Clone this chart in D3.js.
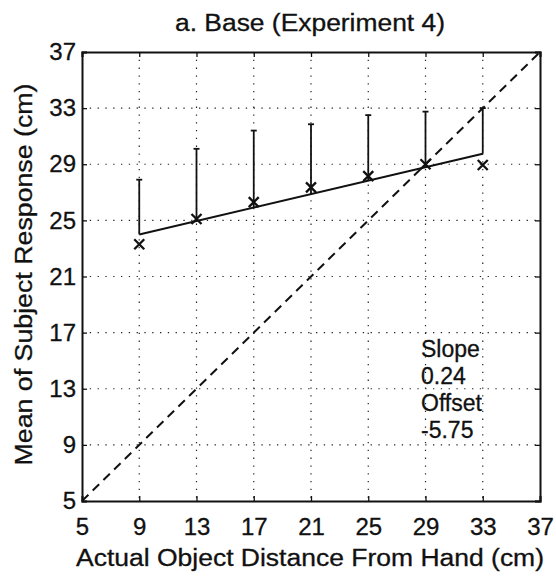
<!DOCTYPE html>
<html><head><meta charset="utf-8">
<script src="https://cdn.jsdelivr.net/npm/d3@7"></script>
<style>body{margin:0;background:#fff}svg{display:block}text{font-family:"Liberation Sans",Arial,sans-serif;fill:#111}</style>
</head><body><svg id="c" width="556" height="579"></svg>
<script>
const distances = [9, 13, 17, 21, 25, 29, 33];
const meanResponse = [23.3, 25.1, 26.3, 27.35, 28.15, 29.0, 28.95];
const errorTop = [27.9, 30.1, 31.4, 31.85, 32.5, 32.75, 33.0];
const slope = 0.24;
const fitStart = [9, 24.0];
const fitEnd = [33, 29.75];
const ticks = [5, 9, 13, 17, 21, 25, 29, 33, 37];
const annotation = ["Slope", "0.24", "Offset", "-5.75"];

const svg = d3.select("#c");
const L = 82, R = 540, T = 52, B = 501;
const x = d3.scaleLinear().domain([5, 37]).range([L, R]);
const y = d3.scaleLinear().domain([5, 37]).range([B, T]);
const fitY = d => fitStart[1] + slope * (d - fitStart[0]);

// grid
const g = svg.append("g");
ticks.slice(1, -1).forEach(t => {
  g.append("line").attr("x1", x(t)).attr("x2", x(t)).attr("y1", T).attr("y2", B)
    .attr("stroke", "#222").attr("stroke-width", 1.2).attr("stroke-dasharray", "1.3,6.5");
  g.append("line").attr("y1", y(t)).attr("y2", y(t)).attr("x1", L).attr("x2", R)
    .attr("stroke", "#222").attr("stroke-width", 1.2).attr("stroke-dasharray", "1.3,6.5");
});

// axes (inward ticks, MATLAB style)
const fmt = d3.format("d");
svg.append("g").attr("transform", `translate(0,${B})`)
  .call(d3.axisBottom(x).tickValues(ticks).tickFormat(fmt).tickSize(-5).tickPadding(17));
svg.append("g").attr("transform", `translate(${L},0)`)
  .call(d3.axisLeft(y).tickValues(ticks).tickFormat(fmt).tickSize(-5).tickPadding(6));
svg.append("g").attr("transform", `translate(0,${T})`)
  .call(d3.axisTop(x).tickValues(ticks).tickFormat("").tickSize(-5));
svg.append("g").attr("transform", `translate(${R},0)`)
  .call(d3.axisRight(y).tickValues(ticks).tickFormat("").tickSize(-5));
svg.selectAll(".domain").attr("stroke-width", 2).attr("stroke", "#111");
svg.selectAll(".tick line").attr("stroke", "#111").attr("stroke-width", 1.3);
svg.selectAll(".tick text").attr("font-size", 24).attr("fill", "#111")
  .attr("stroke", "#111").attr("stroke-width", 0.3)
  .style("font-family", '"Liberation Sans",Arial,sans-serif');

// diagonal
svg.append("line").attr("x1", x(5)).attr("y1", y(5)).attr("x2", x(37)).attr("y2", y(37))
  .attr("stroke", "#111").attr("stroke-width", 2).attr("stroke-dasharray", "9,6");

// fit line
svg.append("line").attr("x1", x(fitStart[0])).attr("y1", y(fitStart[1]))
  .attr("x2", x(fitEnd[0])).attr("y2", y(fitEnd[1]))
  .attr("stroke", "#111").attr("stroke-width", 2);

// error bars (from fit line up to mean + error)
distances.forEach((d, i) => {
  svg.append("line").attr("x1", x(d)).attr("x2", x(d)).attr("y1", y(fitY(d))).attr("y2", y(errorTop[i]))
    .attr("stroke", "#111").attr("stroke-width", 1.8);
  svg.append("line").attr("x1", x(d) - 3).attr("x2", x(d) + 3).attr("y1", y(errorTop[i])).attr("y2", y(errorTop[i]))
    .attr("stroke", "#111").attr("stroke-width", 1.8);
});

// x markers
const s = 5;
distances.forEach((d, i) => {
  const cx = x(d), cy = y(meanResponse[i]);
  svg.append("path").attr("d", `M${cx - s},${cy - s}L${cx + s},${cy + s}M${cx - s},${cy + s}L${cx + s},${cy - s}`)
    .attr("stroke", "#111").attr("stroke-width", 2.3).attr("fill", "none");
});

// annotation
annotation.forEach((t, i) => {
  svg.append("text").attr("x", 421).attr("y", 357 + i * 27).attr("font-size", 23)
    .attr("stroke", "#111").attr("stroke-width", 0.3).text(t);
});

// titles
svg.append("text").attr("x", 310).attr("y", 31).attr("text-anchor", "middle").attr("font-size", 23)
  .attr("textLength", 270).attr("lengthAdjust", "spacingAndGlyphs")
  .attr("stroke", "#111").attr("stroke-width", 0.3).text("a. Base (Experiment 4)");
svg.append("text").attr("x", 310).attr("y", 566).attr("text-anchor", "middle").attr("font-size", 23)
  .attr("textLength", 468).attr("lengthAdjust", "spacingAndGlyphs")
  .attr("stroke", "#111").attr("stroke-width", 0.3).text("Actual Object Distance From Hand (cm)");
svg.append("text").attr("transform", `translate(32,${(T + B) / 2 - 2}) rotate(-90)`).attr("text-anchor", "middle").attr("font-size", 23)
  .attr("textLength", 382).attr("lengthAdjust", "spacingAndGlyphs")
  .attr("stroke", "#111").attr("stroke-width", 0.3).text("Mean of Subject Response (cm)");
</script></body></html>
